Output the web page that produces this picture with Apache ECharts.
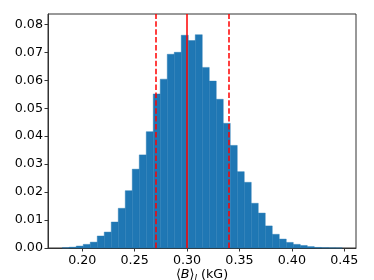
<!DOCTYPE html>
<html>
<head>
<meta charset="utf-8">
<script src="https://cdn.jsdelivr.net/npm/echarts@6/dist/echarts.min.js"></script>
<style>
html,body{margin:0;padding:0;background:#fff;}
#chart{width:374px;height:280px;}
</style>
</head>
<body>
<div id="chart"></div>
<script>
// Histogram bin edges (start + width) and normalized counts
const binStart = 0.1809;
const binWidth = 0.00668;
const binValues = [
  0.0001, 0.0003, 0.0007, 0.0013, 0.0021, 0.0043, 0.0057, 0.0093, 0.0142, 0.0205,
  0.0282, 0.0333, 0.0416, 0.0551, 0.0604, 0.0693, 0.0700, 0.0761, 0.0742, 0.0763,
  0.0646, 0.0597, 0.0532, 0.0446, 0.0367, 0.0273, 0.0235, 0.0160, 0.0125, 0.0079,
  0.0049, 0.0032, 0.0020, 0.0013, 0.0009, 0.0005, 0.0002, 0.0001, 0.00005, 0.00002
];
const medianLine = 0.3021;
const intervalLines = [0.2681, 0.3378];
const xTicks = [0.20, 0.25, 0.30, 0.35, 0.40, 0.45];
const yTicks = [0, 0.01, 0.02, 0.03, 0.04, 0.05, 0.06, 0.07, 0.08];

const histData = binValues.map((v, i) => [binStart + i * binWidth, binStart + (i + 1) * binWidth, v]);

const font = 'DejaVu Sans';
const fs = 12.7;
const chart = echarts.init(document.getElementById('chart'), null, {renderer: 'canvas'});
chart.setOption({
  animation: false,
  backgroundColor: '#fff',
  grid: {left: 48, right: 18, top: 14, bottom: 32, show: true, borderColor: '#333', borderWidth: 1,
    backgroundColor: 'transparent', containLabel: false, outerBoundsMode: 'none'},
  xAxis: {
    type: 'value', min: 0.1673, max: 0.4612,
    name: '{a|⟨}{b|B}{a|⟩}{s|l}{a| (kG)}',
    nameLocation: 'middle', nameGap: 19, nameMoveOverlap: false,
    nameTextStyle: {
      verticalAlign: 'top',
      rich: {
        a: {fontFamily: font, fontSize: fs, color: '#000', lineHeight: 16},
        b: {fontFamily: font, fontSize: fs, fontStyle: 'italic', color: '#000', lineHeight: 16},
        s: {fontFamily: font, fontSize: 9, fontStyle: 'italic', color: '#000', lineHeight: 16, verticalAlign: 'bottom'}
      }
    },
    splitLine: {show: false},
    axisLine: {show: true, onZero: false, lineStyle: {color: '#333', width: 1}},
    axisTick: {show: true, inside: false, length: 3.5, lineStyle: {color: '#333'}, customValues: xTicks},
    axisLabel: {fontFamily: font, fontSize: fs, color: '#000', margin: 6, customValues: xTicks,
      formatter: v => v.toFixed(2)}
  },
  yAxis: {
    type: 'value', min: 0, max: 0.0837,
    splitLine: {show: false},
    axisLine: {show: true, lineStyle: {color: '#333', width: 1}},
    axisTick: {show: true, inside: false, length: 3.5, lineStyle: {color: '#333'}, customValues: yTicks},
    axisLabel: {fontFamily: font, fontSize: fs, color: '#000', margin: 5, customValues: yTicks,
      formatter: v => v.toFixed(2)}
  },
  series: [{
    type: 'custom',
    data: histData,
    encode: {x: [0, 1], y: 2},
    renderItem: function (params, api) {
      const p0 = api.coord([api.value(0), api.value(2)]);
      const p1 = api.coord([api.value(1), 0]);
      return {
        type: 'rect',
        shape: {x: p0[0], y: p0[1], width: p1[0] - p0[0], height: p1[1] - p0[1]},
        style: {fill: '#1f77b4', stroke: '#1f77b4', lineWidth: 0.4}
      };
    },
    markLine: {
      silent: true, symbol: 'none', animation: false,
      label: {show: false},
      lineStyle: {color: '#ff0000', opacity: 1, width: 1.5},
      emphasis: {disabled: true},
      data: [
        {xAxis: medianLine, lineStyle: {color: '#ff0000', opacity: 1, width: 1.5, type: 'solid'}},
        {xAxis: intervalLines[0], lineStyle: {color: '#ff0000', opacity: 1, width: 1.5, type: [5.5, 2.4]}},
        {xAxis: intervalLines[1], lineStyle: {color: '#ff0000', opacity: 1, width: 1.5, type: [5.5, 2.4]}}
      ]
    }
  }]
});
</script>
</body>
</html>
